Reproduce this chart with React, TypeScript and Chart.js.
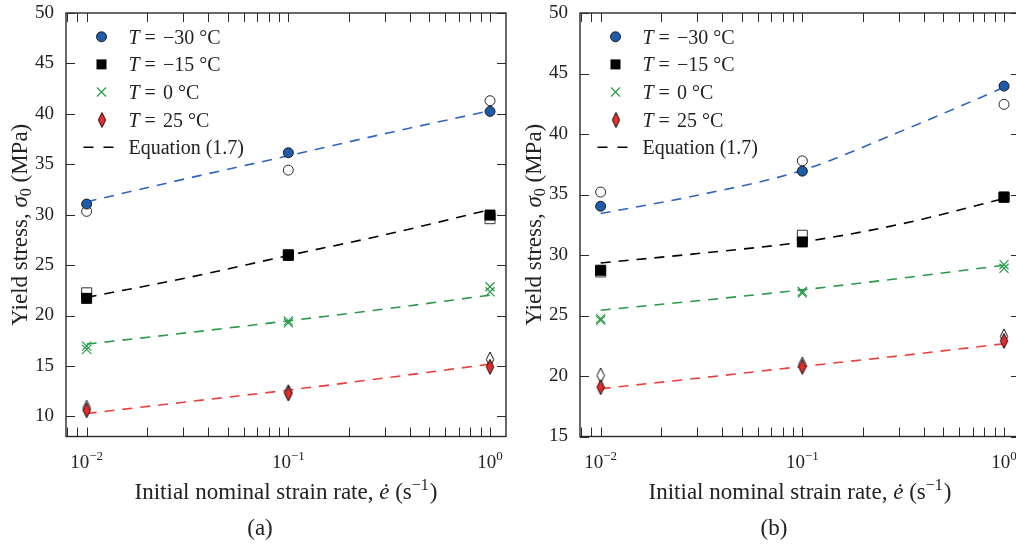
import React, { useEffect, useRef } from "react";
import { Chart, registerables } from "chart.js";

Chart.register(...registerables);

// ---------- data ----------
const strainRates = [0.01, 0.1, 1]; // s^-1, measured rates
const curveRates = [0.01, 0.0316, 0.1, 0.316, 1]; // rates where Eq. (1.7) curve was read
const xMajorTicks = [0.01, 0.1, 1];
const xTickExponents = ["\u22122", "\u22121", "0"];
const xMinorTicks = [0.008, 0.009, 0.02, 0.03, 0.04, 0.05, 0.06, 0.07, 0.08, 0.09, 0.2, 0.3, 0.4, 0.5, 0.6, 0.7, 0.8, 0.9];
const tempLabels = ["\u221230", "\u221215", "0", "25"];

// panel (a)
const aYTicks = [10, 15, 20, 25, 30, 35, 40, 45, 50];
const aM30Filled = [31.05, 36.14, 40.24];
const aM30Open = [30.33, 34.42, 41.3];
const aM15Filled = [21.7, 25.96, 29.96];
const aM15Open = [22.25, 26.05, 29.6];
const a0First = [16.96, 19.47, 22.85];
const a0Second = [16.64, 19.27, 22.35];
const a25Filled = [10.6, 12.27, 14.9];
const a25Open = [10.85, 12.4, 15.64];
const aM30Curve = [31.28, 33.6, 35.84, 38.13, 40.31];
const aM15Curve = [21.8, 23.75, 25.95, 28.1, 30.5];
const a0Curve = [17.16, 18.29, 19.47, 20.7, 22.02];
const a25Curve = [10.28, 11.44, 12.6, 13.86, 15.18];

// panel (b)
const bYTicks = [15, 20, 25, 30, 35, 40, 45, 50];
const bM30Filled = [34.03, 36.93, 43.96];
const bM30Open = [35.2, 37.78, 42.45];
const bM15Filled = [28.74, 31.08, 34.8];
const bM15Open = [28.6, 31.63, 34.75];
const b0First = [24.74, 26.98, 29.2];
const b0Second = [24.6, 26.85, 28.9];
const b25Filled = [19.08, 20.75, 22.9];
const b25Open = [20.05, 20.95, 23.27];
const bM30Curve = [33.43, 35.0, 37.0, 40.3, 43.85];
const bM15Curve = [29.34, 30.15, 31.08, 32.6, 34.67];
const b0Curve = [25.43, 26.25, 27.12, 28.1, 29.15];
const b25Curve = [18.95, 19.85, 20.79, 21.7, 22.67];

// ---------- styles ----------
const SERIF = '"Liberation Serif", "Times New Roman", "DejaVu Serif", serif';
const BLUE_FILL = "#1f5ba8";
const BLUE_LINE = "#2e64c4";
const GREEN = "#2a9a4a";
const RED_FILL = "#e82a2a";
const RED_LINE = "#f23c3c";
const INK = "#222";
const DASH = [10, 8];

function makeDiamond(fill: string): HTMLCanvasElement {
  const c = document.createElement("canvas");
  c.width = 10;
  c.height = 17;
  const g = c.getContext("2d")!;
  g.beginPath();
  g.moveTo(5, 1);
  g.lineTo(8.7, 8.5);
  g.lineTo(5, 16);
  g.lineTo(1.3, 8.5);
  g.closePath();
  g.fillStyle = fill;
  g.fill();
  g.lineWidth = 1;
  g.strokeStyle = "#111";
  g.stroke();
  return c;
}

type Part = { t: string; italic?: boolean; size: number; dy?: number; gap?: number };

function drawRich(ctx: CanvasRenderingContext2D, parts: Part[], x: number, y: number, align: "left" | "center") {
  ctx.textAlign = "left";
  ctx.textBaseline = "alphabetic";
  const widths: number[] = [];
  let total = 0;
  for (const p of parts) {
    ctx.font = `${p.italic ? "italic " : ""}${p.size}px ${SERIF}`;
    const w = ctx.measureText(p.t).width;
    widths.push(w);
    total += w + (p.gap || 0);
  }
  let cx = align === "center" ? x - total / 2 : x;
  parts.forEach((p, i) => {
    cx += p.gap || 0;
    ctx.font = `${p.italic ? "italic " : ""}${p.size}px ${SERIF}`;
    ctx.fillText(p.t, cx, y + (p.dy || 0));
    cx += widths[i];
  });
}

type PanelSpec = {
  yMin: number;
  yMax: number;
  yTicks: number[];
  caption: string;
  m30Filled: number[];
  m30Open: number[];
  m15Filled: number[];
  m15Open: number[];
  t0First: number[];
  t0Second: number[];
  t25Filled: number[];
  t25Open: number[];
  m30Curve: number[];
  m15Curve: number[];
  t0Curve: number[];
  t25Curve: number[];
};

function buildChart(canvas: HTMLCanvasElement, spec: PanelSpec) {
  const diamondRed = makeDiamond(RED_FILL);
  const diamondOpen = makeDiamond("#ffffff");

  const pts = (ys: number[]) => strainRates.map((x, i) => ({ x, y: ys[i] }));
  const cpts = (ys: number[]) => curveRates.map((x, i) => ({ x, y: ys[i] }));

  const marker = (ys: number[], style: any, radius: number, fill: string, stroke: string, bw: number, order: number) => ({
    data: pts(ys),
    showLine: false,
    pointStyle: style,
    pointRadius: radius,
    pointHoverRadius: radius,
    backgroundColor: fill,
    borderColor: stroke,
    pointBackgroundColor: fill,
    pointBorderColor: stroke,
    pointBorderWidth: bw,
    order,
  });
  const curve = (ys: number[], color: string) => ({
    data: cpts(ys),
    showLine: true,
    borderColor: color,
    borderWidth: 1.6,
    borderDash: DASH,
    pointRadius: 0,
    fill: false,
    cubicInterpolationMode: "monotone",
    order: 3,
  });

  const datasets: any[] = [
    curve(spec.m30Curve, BLUE_LINE),
    curve(spec.m15Curve, "#000"),
    curve(spec.t0Curve, GREEN),
    curve(spec.t25Curve, RED_LINE),
    marker(spec.m30Open, "circle", 5, "#fff", "#111", 0.9, 2),
    marker(spec.m15Open, "rect", 7.07, "#fff", "#333", 1, 2),
    marker(spec.t0Second, "crossRot", 6.4, GREEN, GREEN, 1.2, 2),
    marker(spec.t25Open, diamondOpen, 6, "#fff", "#111", 1, 2),
    marker(spec.m30Filled, "circle", 5, BLUE_FILL, "#111", 0.9, 1),
    marker(spec.m15Filled, "rect", 7.07, "#000", "#000", 1, 1),
    marker(spec.t0First, "crossRot", 6.4, GREEN, GREEN, 1.2, 1),
    marker(spec.t25Filled, diamondRed, 6, RED_FILL, "#111", 1, 1),
  ];

  const framePlugin = {
    id: "frameAndText",
    afterDraw(chart: any) {
      const ctx: CanvasRenderingContext2D = chart.ctx;
      const { left, right, top, bottom } = chart.chartArea;
      const xs = chart.scales.x;
      const ys = chart.scales.y;
      ctx.save();
      // frame
      ctx.strokeStyle = "#2a2a2a";
      ctx.lineWidth = 1.4;
      ctx.strokeRect(left, top, right - left, bottom - top);
      // ticks
      ctx.lineWidth = 1;
      ctx.beginPath();
      const TL = 9;
      for (const v of spec.yTicks) {
        const py = Math.round(ys.getPixelForValue(v)) + 0.5;
        ctx.moveTo(left, py);
        ctx.lineTo(left + TL, py);
        ctx.moveTo(right, py);
        ctx.lineTo(right - TL, py);
      }
      for (const v of [...xMajorTicks, ...xMinorTicks]) {
        const px = Math.round(xs.getPixelForValue(v)) + 0.5;
        if (px < left - 0.5 || px > right + 0.5) continue;
        ctx.moveTo(px, bottom);
        ctx.lineTo(px, bottom - TL);
        ctx.moveTo(px, top);
        ctx.lineTo(px, top + TL);
      }
      ctx.stroke();

      ctx.fillStyle = INK;
      // x tick labels
      xMajorTicks.forEach((v, i) => {
        const px = xs.getPixelForValue(v);
        drawRich(
          ctx,
          [
            { t: "10", size: 19 },
            { t: xTickExponents[i], size: 13, dy: -8 },
          ],
          px,
          468,
          "center"
        );
      });
      // x title
      drawRich(
        ctx,
        [
          { t: "Initial nominal strain rate, ", size: 23 },
          { t: "\u0117", size: 23, italic: true },
          { t: " (s", size: 23 },
          { t: "\u22121", size: 16, dy: -9 },
          { t: ")", size: 23, gap: 1 },
        ],
        (left + right) / 2,
        499,
        "center"
      );
      // caption
      drawRich(ctx, [{ t: spec.caption, size: 23 }], 260, 535, "center");
      // y title (rotated)
      ctx.save();
      ctx.translate(27, (top + bottom) / 2);
      ctx.rotate(-Math.PI / 2);
      drawRich(
        ctx,
        [
          { t: "Yield stress, ", size: 23 },
          { t: "\u03c3", size: 23, italic: true },
          { t: "0", size: 16, dy: 4 },
          { t: " (MPa)", size: 23 },
        ],
        0,
        0,
        "center"
      );
      ctx.restore();

      // legend
      const mx = left + 35.5;
      const tx = left + 62.5;
      const rows = [36.8, 64.4, 92, 119.6, 147.2];
      // circle
      ctx.beginPath();
      ctx.arc(mx, rows[0], 5, 0, Math.PI * 2);
      ctx.fillStyle = BLUE_FILL;
      ctx.fill();
      ctx.lineWidth = 0.9;
      ctx.strokeStyle = "#111";
      ctx.stroke();
      // square
      ctx.fillStyle = "#000";
      ctx.fillRect(mx - 5, rows[1] - 5, 10, 10);
      // cross
      ctx.beginPath();
      ctx.strokeStyle = GREEN;
      ctx.lineWidth = 1.2;
      ctx.moveTo(mx - 4.5, rows[2] - 4.5);
      ctx.lineTo(mx + 4.5, rows[2] + 4.5);
      ctx.moveTo(mx + 4.5, rows[2] - 4.5);
      ctx.lineTo(mx - 4.5, rows[2] + 4.5);
      ctx.stroke();
      // diamond
      ctx.drawImage(diamondRed, Math.round(mx) - 5, Math.round(rows[3]) - 8.5);
      // dashed line
      ctx.beginPath();
      ctx.strokeStyle = "#000";
      ctx.lineWidth = 1.6;
      ctx.setLineDash([10, 10]);
      ctx.moveTo(mx - 18, rows[4]);
      ctx.lineTo(mx + 12, rows[4]);
      ctx.stroke();
      ctx.setLineDash([]);

      ctx.fillStyle = INK;
      tempLabels.forEach((lab, i) => {
        drawRich(
          ctx,
          [
            { t: "T", size: 20, italic: true },
            { t: "=", size: 20, gap: 5 },
            { t: lab, size: 20, gap: 7 },
            { t: "\u00b0C", size: 20, gap: 5 },
          ],
          tx,
          rows[i] + 7,
          "left"
        );
      });
      drawRich(ctx, [{ t: "Equation (1.7)", size: 20 }], tx, rows[4] + 7, "left");
      ctx.restore();
    },
  };

  return new Chart(canvas, {
    type: "line",
    data: { datasets },
    options: {
      animation: false,
      responsive: false,
      devicePixelRatio: 1,
      events: [],
      layout: { padding: { left: 0, top: 13, right: 14, bottom: 0 } },
      plugins: { legend: { display: false }, tooltip: { enabled: false } },
      scales: {
        x: {
          type: "logarithmic",
          min: 0.0079,
          max: 1.2,
          grid: { display: false, drawTicks: false },
          border: { display: false },
          ticks: { display: false },
          afterFit: (s: any) => {
            s.height = 108.5;
            s.paddingLeft = 0;
            s.paddingRight = 0;
          },
        },
        y: {
          type: "linear",
          min: spec.yMin,
          max: spec.yMax,
          grid: { display: false, drawTicks: false },
          border: { display: false },
          afterBuildTicks: (s: any) => {
            s.ticks = spec.yTicks.map((v) => ({ value: v }));
          },
          ticks: {
            color: INK,
            padding: 12,
            font: { family: SERIF, size: 19 },
          },
          afterFit: (s: any) => {
            s.width = 66;
            s.paddingTop = 0;
            s.paddingBottom = 0;
          },
        },
      },
    } as any,
    plugins: [framePlugin],
  });
}

function Panel({ spec, left }: { spec: PanelSpec; left: number }) {
  const ref = useRef<HTMLCanvasElement | null>(null);
  useEffect(() => {
    if (!ref.current) return;
    const chart = buildChart(ref.current, spec);
    return () => chart.destroy();
  }, [spec]);
  return (
    <canvas
      ref={ref}
      width={520}
      height={545}
      style={{ position: "absolute", left, top: 0, width: 520, height: 545 }}
    />
  );
}

const specA: PanelSpec = {
  yMin: 8,
  yMax: 50,
  yTicks: aYTicks,
  caption: "(a)",
  m30Filled: aM30Filled,
  m30Open: aM30Open,
  m15Filled: aM15Filled,
  m15Open: aM15Open,
  t0First: a0First,
  t0Second: a0Second,
  t25Filled: a25Filled,
  t25Open: a25Open,
  m30Curve: aM30Curve,
  m15Curve: aM15Curve,
  t0Curve: a0Curve,
  t25Curve: a25Curve,
};

const specB: PanelSpec = {
  yMin: 15,
  yMax: 50,
  yTicks: bYTicks,
  caption: "(b)",
  m30Filled: bM30Filled,
  m30Open: bM30Open,
  m15Filled: bM15Filled,
  m15Open: bM15Open,
  t0First: b0First,
  t0Second: b0Second,
  t25Filled: b25Filled,
  t25Open: b25Open,
  m30Curve: bM30Curve,
  m15Curve: bM15Curve,
  t0Curve: b0Curve,
  t25Curve: b25Curve,
};

export default function App() {
  return (
    <div
      style={{
        position: "fixed",
        left: 0,
        top: 0,
        width: 1016,
        height: 545,
        overflow: "hidden",
        background: "#fff",
      }}
    >
      <Panel spec={specA} left={0} />
      <Panel spec={specB} left={514} />
    </div>
  );
}
